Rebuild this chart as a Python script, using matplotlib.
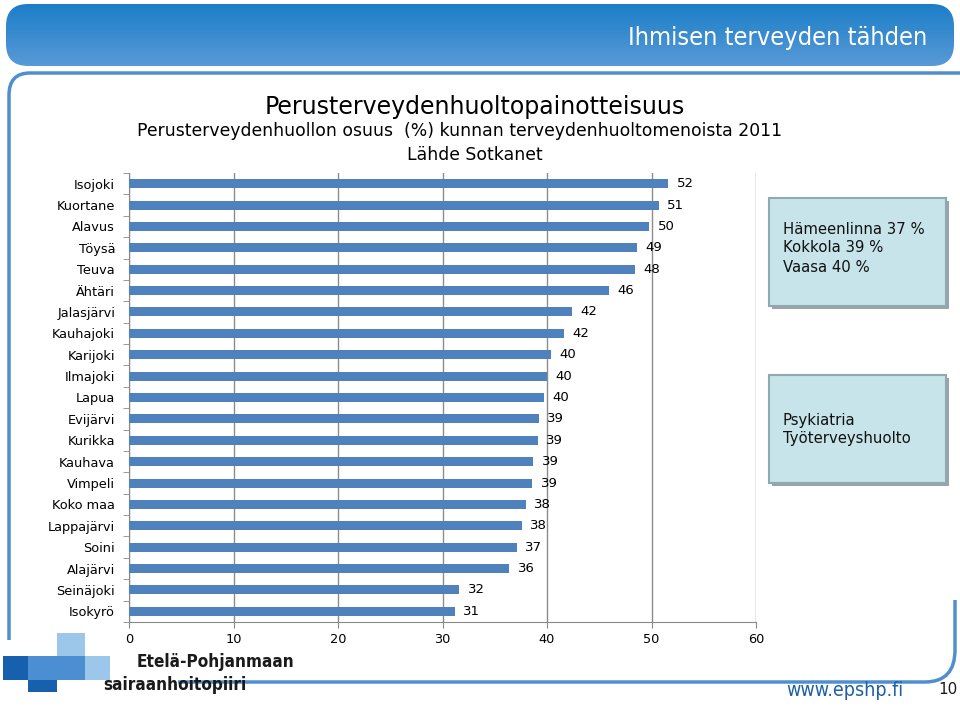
import numpy as np
import matplotlib
matplotlib.use("Agg")
import matplotlib.pyplot as plt
from matplotlib import font_manager
from matplotlib.patches import Rectangle, FancyBboxPatch, PathPatch
from matplotlib.path import Path

# Data (values in %)
kunnat = ["Isojoki", "Kuortane", "Alavus", "Töysä", "Teuva", "Ähtäri", "Jalasjärvi",
          "Kauhajoki", "Karijoki", "Ilmajoki", "Lapua", "Evijärvi", "Kurikka", "Kauhava",
          "Vimpeli", "Koko maa", "Lappajärvi", "Soini", "Alajärvi", "Seinäjoki", "Isokyrö"]
osuus = [51.6, 50.7, 49.8, 48.6, 48.4, 45.9, 42.4,
         41.6, 40.4, 40.0, 39.7, 39.2, 39.1, 38.7,
         38.6, 38.0, 37.6, 37.1, 36.4, 31.6, 31.2]
x_ticks = [0, 10, 20, 30, 40, 50, 60]

title1 = "Perusterveydenhuoltopainotteisuus"
title2 = "Perusterveydenhuollon osuus  (%) kunnan terveydenhuoltomenoista 2011"
title3 = "Lähde Sotkanet"
box1_lines = ["Hämeenlinna 37 %", "Kokkola 39 %", "Vaasa 40 %"]
box2_lines = ["Psykiatria", "Työterveyshuolto"]

# fonts: use a condensed face if one is installed
narrow = "DejaVu Sans"
has_cond = False
for f in font_manager.fontManager.ttflist:
    if f.name == "Liberation Sans Narrow":
        narrow = "Liberation Sans Narrow"
        break
    if f.name == "DejaVu Sans" and f.stretch == "condensed":
        has_cond = True
stretch = "condensed" if has_cond and narrow == "DejaVu Sans" else "normal"
cond = stretch == "condensed" or narrow != "DejaVu Sans"
body = "DejaVu Sans"

W, H = 960, 706
fig = plt.figure(figsize=(W / 100, H / 100), dpi=100)

# background layer in pixel coordinates
bg = fig.add_axes([0, 0, 1, 1])
bg.set_xlim(0, W)
bg.set_ylim(H, 0)
bg.axis("off")

# header band with gradient
grad = np.linspace(0, 1, 100).reshape(-1, 1)
cmap = matplotlib.colors.LinearSegmentedColormap.from_list("hdr", ["#177cc6", "#5b9bd8"])
header = FancyBboxPatch((6, 4), 948, 62, boxstyle="round,pad=0,rounding_size=22",
                        fc="none", ec="none")
bg.add_patch(header)
im = bg.imshow(grad, extent=[0, W, 68, 0], cmap=cmap, aspect="auto", zorder=1)
im.set_clip_path(header)
bg.text(927, 38, "Ihmisen terveyden tähden", color="white", fontsize=18.2 if cond else 16.2,
        family=narrow, stretch=stretch, ha="right", va="center", zorder=3)

# frame lines
top_left = Path([(960, 73), (30, 73), (9, 73), (9, 95), (9, 640)],
                [Path.MOVETO, Path.LINETO, Path.CURVE3, Path.CURVE3, Path.LINETO])
bg.add_patch(PathPatch(top_left, fc="none", ec="#4f8fcf", lw=2.5, zorder=2))
bottom_right = Path([(178, 682), (925, 682), (955, 682), (955, 650), (955, 600)],
                    [Path.MOVETO, Path.LINETO, Path.CURVE3, Path.CURVE3, Path.LINETO])
bg.add_patch(PathPatch(bottom_right, fc="none", ec="#4f8fcf", lw=2.5, zorder=2))

# logo
bg.add_patch(Rectangle((57, 633), 28, 24, fc="#9cc6ea", ec="none", zorder=2))
bg.add_patch(Rectangle((3, 656), 27, 24, fc="#1660ae", ec="none", zorder=2))
bg.add_patch(Rectangle((28, 656), 57, 24, fc="#4b8fd2", ec="none", zorder=2))
bg.add_patch(Rectangle((85, 656), 25, 24, fc="#9cc6ea", ec="none", zorder=2))
bg.add_patch(Rectangle((28, 680), 29, 12, fc="#1660ae", ec="none", zorder=2))
logo_size = 12.3 if cond else 11
bg.text(137, 662, "Etelä-Pohjanmaan", fontsize=logo_size, weight="bold", family=narrow,
        stretch=stretch, color="#1a1a1a", va="center", ha="left", zorder=3)
bg.text(103, 685, "sairaanhoitopiiri", fontsize=logo_size, weight="bold", family=narrow,
        stretch=stretch, color="#1a1a1a", va="center", ha="left", zorder=3)
bg.text(903, 691, "www.epshp.fi", fontsize=14 if cond else 12.5,
        family=narrow, stretch=stretch, color="#1f5fa8", ha="right", va="center", zorder=3)
bg.text(948, 690, "10", fontsize=11, family=narrow, color="#1a1a1a",
        ha="center", va="center", zorder=3)

# titles
bg.text(475, 107, title1, fontsize=17, family=body, ha="center", va="center")
bg.text(460, 131, title2, fontsize=12.4, family=body, ha="center", va="center")
bg.text(475, 155, title3, fontsize=12.4, family=body, ha="center", va="center")

# text boxes
for (y0, lines, ty) in [(198, box1_lines, 229), (375, box2_lines, 420)]:
    bg.add_patch(Rectangle((772, y0 + 3), 177, 108, fc="#9aa4a8", ec="none", zorder=2))
    bg.add_patch(Rectangle((769, y0), 177, 108, fc="#c7e4ea", ec="#8ea9b2", lw=1.5, zorder=3))
    for i, line in enumerate(lines):
        bg.text(783, ty + i * 19, line, fontsize=10.7, family=body, color="#111111",
                ha="left", va="center", zorder=4)

# main chart
ax = fig.add_axes([129 / W, (H - 622) / H, (756 - 129) / W, (622 - 173) / H])
y = np.arange(len(kunnat))
ax.barh(y, osuus, height=0.42, color="#4f81bd", zorder=3)
ax.set_xlim(0, 60)
ax.set_ylim(len(kunnat) - 0.5, -0.5)
ax.set_xticks(x_ticks)
ax.set_xticklabels([str(t) for t in x_ticks], fontsize=9.3, family=body)
ax.set_yticks(y)
ax.set_yticklabels(kunnat, fontsize=9.3, family=body)
ax.set_yticks(np.arange(len(kunnat) + 1) - 0.5, minor=True)
ax.tick_params(axis="y", which="major", length=0, pad=10)
ax.tick_params(axis="y", which="minor", length=4, color="#888888")
ax.tick_params(axis="x", length=4, color="#888888", pad=4)
ax.grid(axis="x", color="#8c8c8c", lw=1, zorder=0)
for s in ["top", "right"]:
    ax.spines[s].set_visible(False)
for s in ["left", "bottom"]:
    ax.spines[s].set_color("#888888")
ax.patch.set_alpha(0)
for yi, v in zip(y, osuus):
    ax.text(v + 0.8, yi, str(int(round(v))), fontsize=9.5, family=body,
            va="center", ha="left", zorder=4)

fig.savefig("out.png", dpi=100)
